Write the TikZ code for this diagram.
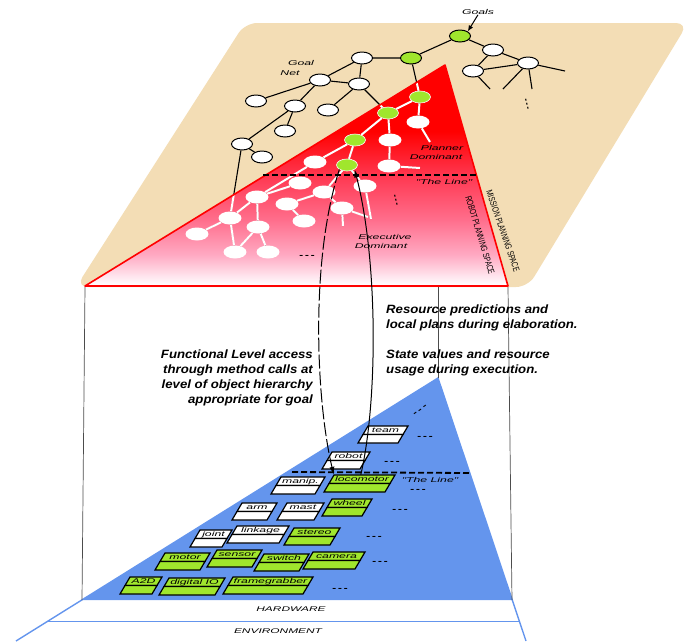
\documentclass[tikz,border=0pt]{standalone}
\usepackage{fontspec}
\setmainfont{Liberation Sans}
\newfontfamily\widefont[FakeStretch=1.75]{Liberation Sans}
\newfontfamily\narrowfont[FakeStretch=0.72]{Liberation Sans}
\newfontfamily\bigfont[FakeStretch=1.1]{Liberation Sans}
\newfontfamily\dotfont[FakeStretch=3]{Liberation Sans}
\usetikzlibrary{arrows.meta,shapes.geometric}
\definecolor{tanc}{RGB}{243,221,181}
\definecolor{redc}{RGB}{255,0,0}
\definecolor{pinka}{RGB}{255,55,80}
\definecolor{pinkb}{RGB}{255,110,140}
\definecolor{pinkc}{RGB}{255,170,195}
\definecolor{pinkd}{RGB}{255,232,240}
\definecolor{greenc}{RGB}{160,230,45}
\definecolor{bluec}{RGB}{100,149,237}
\pgfdeclareverticalshading{redfade}{100bp}{color(0bp)=(white); color(25bp)=(white); color(27bp)=(pinkd); color(32bp)=(pinkc); color(40bp)=(pinkb); color(50bp)=(pinka); color(60bp)=(redc); color(100bp)=(redc)}
\pgfdeclarelayer{back}
\pgfdeclarelayer{edgel}
\pgfsetlayers{back,edgel,main}
\tikzset{
 gn/.style={ellipse, draw=black, line width=1pt, fill=white, minimum width=21pt, minimum height=12pt, inner sep=0pt},
 gg/.style={gn, fill=greenc},
 gr/.style={ellipse, fill=greenc, draw=white, line width=0.6pt, minimum width=21pt, minimum height=12pt, inner sep=0pt},
 wn/.style={ellipse, fill=white, minimum width=23pt, minimum height=13pt, inner sep=0pt},
 lbl/.style={font=\widefont\itshape\fontsize{7}{8}\selectfont, inner sep=0pt},
 hwl/.style={font=\widefont\itshape\fontsize{6.8}{8}\selectfont, inner sep=0pt},
 big/.style={font=\bigfont\bfseries\itshape\fontsize{12}{15}\selectfont, inner sep=0pt},
 nar/.style={font=\narrowfont\fontsize{9}{10}\selectfont, inner sep=0pt},
 dots/.style={font=\dotfont\bfseries\fontsize{7}{8}\selectfont, inner sep=0pt},
 vdots/.style={font=\widefont\bfseries\fontsize{8}{9}\selectfont, inner sep=0pt},
 objline/.style={draw=black, line width=1.2pt},
 theline/.style={line width=1.8pt, dash pattern=on 6pt off 3pt},
 vline/.style={draw=black!70, line width=0.7pt},
 arr/.style={line width=1pt, -{Latex[length=8pt,width=5pt]}},
}
\newcommand\mkobj[6]{%
 \filldraw[objline, fill=#5] (#2,#3) -- ++(#4,0) -- ++(-5,8.5) -- ++(-#4,0) -- cycle;
 \filldraw[objline, fill=#5] (#2-5,#3+8.5) -- ++(#4,0) -- ++(-5,8.5) -- ++(-#4,0) -- cycle;
 \node[lbl, minimum width=#4pt-5pt, minimum height=8.5pt] (#1) at (#2+#4/2-2.5, #3+4.25) {#6};
}
\newcommand\goaledges[1]{%
 \draw[#1] (g0)--(g1) (g0)--(wa) (wa)--(wc) (wa)--(wb) (wc)--(wb) (wb)--(s1) (wb)--(s2) (wb)--(s3) (wc)--(s4)
 (g1)--(n1) (n1)--(n2) (n1)--(n3) (n2)--(n3) (n2)--(n4) (n2)--(n5) (n5)--(n7) (n5)--(n8) (n8)--(n9) (n3)--(n6)
 (n3)--(g3) (g1)--(g2) (n8)--(rc)
 (g2)--(g3) (g3)--(g4) (g4)--(g5) (g2)--(r1) (r1)--(t1) (g3)--(r2) (r2)--(r3) (r3)--(t2)
 (g4)--(r4) (r4)--(rb) (rb)--(ra) (rb)--(rc) (rb)--(re) (rc)--(rd) (rc)--(rf) (re)--(rf) (re)--(rg)
 (g5)--(rj) (rj)--(rh) (rh)--(ri) (rj)--(rk) (rk)--(t4) (rk)--(t5) (g5)--(rl) (rl)--(t3);}
\begin{document}
\begin{tikzpicture}[x=1pt,y=-1pt]
\useasboundingbox (0,0) rectangle (691,641);
\begin{pgfonlayer}{back}
 \fill[tanc, rounded corners=12pt] (245,23) -- (688,23) -- (528,287) -- (76,287) -- cycle;
 \shade[shading=redfade] (445,65) -- (85,286) -- (508,286) -- cycle;
 \fill[bluec] (438,378) -- (82,600) -- (512,600) -- cycle;
 \draw[bluec, line width=1.4pt] (16,641) -- (438,378) -- (526,641);
 \draw[bluec, line width=1pt] (48,621) -- (520,621);
 \draw[vline] (85,287) -- (82,600);
 \draw[vline] (508,287) -- (512,600);
 \draw[vline] (438,287) -- (438,378);
\end{pgfonlayer}
\draw[redc, line width=1.6pt, line join=round] (445,65) -- (85,286) -- (508,286) -- cycle;
% goal net nodes
\node[gg] (g0) at (460,36) {};
\node[gg] (g1) at (411,58) {};
\node[gr] (g2) at (420,97) {};
\node[gr] (g3) at (388,113) {};
\node[gr] (g4) at (355,140) {};
\node[gr] (g5) at (347,165) {};
\node[gn] (n1) at (362,58) {};
\node[gn] (n2) at (320,80) {};
\node[gn] (n3) at (359,84) {};
\node[gn] (n4) at (256,101) {};
\node[gn] (n5) at (295,106) {};
\node[gn] (n6) at (328,110) {};
\node[gn] (n7) at (285,131) {};
\node[gn] (n8) at (242,144) {};
\node[gn] (n9) at (262,157) {};
\node[gn] (wa) at (493,50) {};
\node[gn] (wb) at (528,63) {};
\node[gn] (wc) at (473,71) {};
\node[wn] (r1) at (418,122) {};
\node[wn] (r2) at (390,140) {};
\node[wn] (r3) at (389,166) {};
\node[wn] (r4) at (315,162) {};
\node[wn] (ra) at (300,183) {};
\node[wn] (rb) at (257,197) {};
\node[wn] (rc) at (230,218) {};
\node[wn] (rd) at (197,234) {};
\node[wn] (re) at (258,227) {};
\node[wn] (rf) at (235,252) {};
\node[wn] (rg) at (268,252) {};
\node[wn] (rh) at (287,204) {};
\node[wn] (ri) at (304,221) {};
\node[wn] (rj) at (324,192) {};
\node[wn] (rk) at (342,208) {};
\node[wn] (rl) at (365,186) {};
\coordinate (s1) at (565,71);
\coordinate (s2) at (532,89);
\coordinate (s3) at (503,89);
\coordinate (s4) at (490,89);
\coordinate (t1) at (430,142);
\coordinate (t2) at (420,168);
\coordinate (t3) at (371,219);
\coordinate (t4) at (368,217);
\coordinate (t5) at (343,226);
\begin{pgfonlayer}{edgel}
 \goaledges{line width=1.1pt, black}
 \begin{scope}
  \clip (445,65) -- (85,286) -- (508,286) -- cycle;
  \goaledges{line width=2pt, white}
 \end{scope}
\end{pgfonlayer}
% labels upper
\node[lbl] (goals) at (478,12) {Goals};
\draw[line width=1pt, -{Latex[length=6pt,width=5pt]}] (goals.south) -- (g0.north east);
\node[lbl] (goal1) at (301,63) {Goal};
\node[lbl] (goal2) at (290,73) {Net};
\node[lbl] (pl1) at (442,148) {Planner};
\node[lbl] (pl2) at (436,157) {Dominant};
\node[lbl] (tl1) at (444,182) {"The Line"};
\node[lbl] (ex1) at (385,237) {Executive};
\node[lbl] (ex2) at (381,246) {Dominant};
\node[nar, rotate=-73] (rps) at (480,235) {ROBOT PLANNING SPACE};
\node[nar, rotate=-71] (mps) at (503,231) {MISSION PLANNING SPACE};
\node[vdots, rotate=-75] (d1) at (527,104) {...};
\node[vdots, rotate=-75] (d2) at (396,200) {...};
\node[dots] (d3) at (307,256) {...};
\coordinate (ul1) at (263,175);
\coordinate (ul2) at (476,175);
\draw[theline] (ul1) -- (ul2);
% lower objects
\mkobj{team}{368}{426}{40}{white}{team}
\mkobj{robot}{332}{452}{38}{white}{robot}
\mkobj{loco}{334}{475}{61}{greenc}{locomotor}
\mkobj{manip}{281}{477}{44}{white}{manip.}
\mkobj{wheel}{332}{499}{40}{greenc}{wheel}
\mkobj{mast}{287}{503}{37}{white}{mast}
\mkobj{arm}{242}{503}{35}{white}{arm}
\mkobj{joint}{200}{530}{32}{white}{joint}
\mkobj{linkage}{237}{526}{52}{white}{linkage}
\mkobj{stereo}{294}{528}{46}{greenc}{stereo}
\mkobj{motor}{165}{553}{45}{greenc}{motor}
\mkobj{sensor}{217}{550}{45}{greenc}{sensor}
\mkobj{switch}{264}{554}{45}{greenc}{switch}
\mkobj{camera}{313}{552}{52}{greenc}{camera}
\mkobj{atod}{130}{577}{32}{greenc}{A2D}
\mkobj{digio}{169}{578}{56}{greenc}{digital IO}
\mkobj{fgrab}{233}{577}{80}{greenc}{framegrabber}
\node[dots, rotate=35] (e1) at (420,410) {...};
\node[dots] (e2) at (425,437) {...};
\node[dots] (e3) at (392,462) {...};
\node[dots] (e4) at (418,490) {...};
\node[dots] (e5) at (400,510) {...};
\node[dots] (e6) at (374,537) {...};
\node[dots] (e7) at (380,562) {...};
\node[dots] (e8) at (340,589) {...};
\coordinate (ll1) at (292,472);
\coordinate (ll2) at (470,473);
\draw[theline] (ll1) -- (ll2);
\node[lbl] (tl2) at (430,480) {"The Line"};
\node[hwl] (hw) at (291,609) {HARDWARE};
\node[hwl] (env) at (278,631) {ENVIRONMENT};
% big texts
\node[big, anchor=base west] (r1t) at (386,313) {Resource predictions and};
\node[big, anchor=base west] (r2t) at (386,328) {local plans during elaboration.};
\node[big, anchor=base west] (r3t) at (386,358) {State values and resource};
\node[big, anchor=base west] (r4t) at (386,373) {usage during execution.};
\node[big, anchor=base east] (l1t) at (313,358) {Functional Level access};
\node[big, anchor=base east] (l2t) at (313,373) {through method calls at};
\node[big, anchor=base east] (l3t) at (313,388) {level of object hierarchy};
\node[big, anchor=base east] (l4t) at (313,403) {appropriate for goal};
% loop arrows
\draw[arr, dash pattern=on 14pt off 3pt] (g5.south west) .. controls (310,260) and (316,400) .. (loco.north west);
\draw[arr] ([xshift=27pt]loco.north west) .. controls (378,400) and (378,260) .. (g5.south east);
\end{tikzpicture}
\end{document}
